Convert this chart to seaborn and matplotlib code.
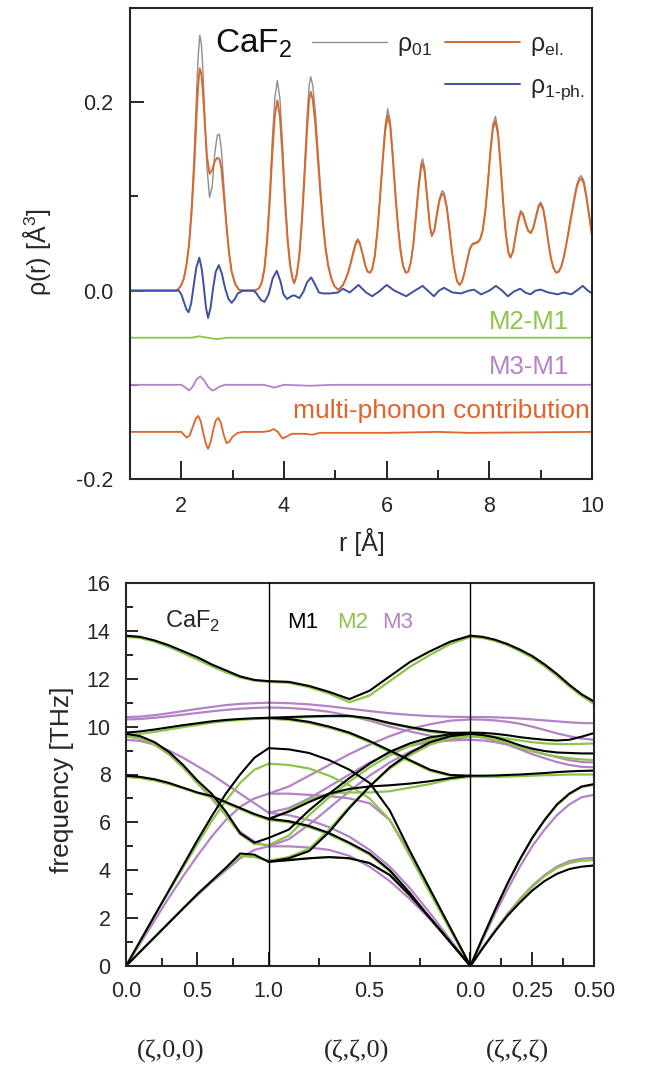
import numpy as np
import pandas as pd
import matplotlib
matplotlib.use("Agg")
import matplotlib.pyplot as plt
from matplotlib.lines import Line2D
from matplotlib.ticker import FixedLocator
import seaborn as sns

# ---------------- top panel data (pair distribution functions) ----------------
R_PDF = [1.0, 1.90, 1.95, 2.00, 2.05, 2.10, 2.15, 2.20, 2.25, 2.30, 2.33, 2.36, 2.39, 2.42, 2.46,
         2.50, 2.55, 2.60, 2.65, 2.70, 2.74, 2.78, 2.83, 2.88, 2.93, 2.98, 3.05, 3.12, 3.20, 3.40,
         3.47, 3.52, 3.57, 3.62, 3.67, 3.72, 3.77, 3.82, 3.87, 3.92, 3.97, 4.02, 4.07, 4.12, 4.17,
         4.20, 4.25, 4.30, 4.35, 4.40, 4.45, 4.49, 4.52, 4.56, 4.61, 4.66, 4.71, 4.76, 4.81, 4.86,
         4.92, 4.98, 5.05,
         5.10, 5.15, 5.20, 5.25, 5.30, 5.35, 5.40, 5.44, 5.48, 5.53, 5.58, 5.63, 5.68, 5.72, 5.77,
         5.82, 5.87, 5.92, 5.97, 6.02, 6.07, 6.12, 6.17, 6.22, 6.27, 6.32, 6.37, 6.42,
         6.47, 6.52, 6.57, 6.62, 6.67, 6.70, 6.74, 6.79, 6.84, 6.88, 6.93, 6.98, 7.03, 7.08, 7.12,
         7.17, 7.22, 7.27, 7.32, 7.37, 7.42,
         7.47, 7.52, 7.57, 7.62, 7.67, 7.72, 7.77, 7.82, 7.87, 7.92, 7.97, 8.02, 8.07, 8.12, 8.17,
         8.22, 8.27, 8.32, 8.37, 8.41,
         8.46, 8.51, 8.56, 8.61, 8.66, 8.71, 8.76, 8.81, 8.86, 8.91, 8.96, 9.00, 9.05, 9.10, 9.15,
         9.20, 9.25, 9.30, 9.35, 9.40, 9.45, 9.50, 9.55, 9.60, 9.65, 9.70, 9.75, 9.79, 9.84, 9.89,
         9.94, 10.0]
RHO_01 = [0, 0, .002, .006, .013, .028, .05, .09, .145, .215, .25, .271, .262, .235, .18,
          .13, .099, .11, .145, .165, .166, .15, .11, .07, .04, .02, .007, .001, 0, 0,
          .001, .003, .01, .025, .056, .102, .158, .204, .223, .204, .158, .102, .058, .028, .012,
          .008, .018, .04, .08, .13, .185, .218, .227, .218, .19, .15, .11, .075, .047, .028,
          .014, .005, .001,
          .003, .006, .012, .02, .03, .042, .052, .055, .051, .04, .028, .02, .019, .024, .038,
          .065, .10, .14, .175, .193, .18, .145, .105, .07, .043, .027, .019, .02,
          .03, .05, .08, .112, .135, .14, .13, .10, .07, .058, .065, .083, .098, .106, .104,
          .09, .068, .043, .023, .01, .006,
          .01, .02, .033, .045, .05, .051, .052, .055, .065, .085, .115, .15, .177, .185, .17,
          .135, .095, .062, .042, .035,
          .042, .058, .075, .085, .082, .072, .064, .062, .068, .08, .091, .094, .088, .072, .052,
          .035, .024, .019, .02, .026, .036, .05, .066, .082, .098, .112, .12, .122, .117, .102,
          .083, .06]
RHO_EL = [0, 0, .002, .006, .013, .027, .048, .083, .13, .19, .22, .236, .23, .212, .175,
          .142, .124, .128, .137, .141, .14, .13, .10, .068, .04, .02, .007, .001, 0, 0,
          .001, .003, .009, .023, .051, .092, .143, .185, .202, .185, .143, .093, .053, .026, .012,
          .008, .017, .037, .074, .121, .172, .203, .211, .203, .177, .14, .102, .07, .044, .026,
          .013, .005, .001,
          .003, .006, .012, .019, .029, .04, .05, .053, .049, .039, .027, .02, .019, .023, .037,
          .063, .097, .135, .169, .186, .174, .14, .101, .068, .042, .026, .019, .02,
          .03, .049, .078, .108, .13, .135, .126, .097, .069, .058, .064, .081, .096, .103, .101,
          .088, .066, .042, .023, .01, .006,
          .01, .02, .032, .044, .049, .05, .051, .054, .063, .083, .112, .146, .172, .180, .165,
          .131, .092, .06, .041, .035,
          .041, .057, .073, .083, .08, .07, .063, .061, .067, .078, .089, .092, .086, .07, .051,
          .034, .024, .019, .02, .025, .035, .049, .064, .08, .095, .109, .117, .119, .114, .099,
          .081, .058]
R_1PH = [1.0, 1.95, 2.0, 2.05, 2.10, 2.14, 2.19, 2.24, 2.29, 2.35, 2.40, 2.44, 2.48, 2.52, 2.57,
         2.62, 2.67, 2.73, 2.79, 2.85, 2.92, 2.98, 3.04, 3.10, 3.20, 3.40, 3.45, 3.55, 3.62, 3.70,
         3.78, 3.86, 3.93, 3.99, 4.06, 4.14, 4.20, 4.30, 4.38, 4.45, 4.53, 4.60, 4.68, 4.75, 4.90,
         5.05, 5.15, 5.28, 5.45, 5.60, 5.72, 5.85, 6.00, 6.15, 6.38, 6.55, 6.70, 6.80, 6.92, 7.02,
         7.12, 7.28, 7.45, 7.60, 7.70, 7.84, 8.00, 8.13, 8.25, 8.36, 8.48, 8.60, 8.70, 8.80, 8.90,
         9.00, 9.15, 9.33, 9.45, 9.60, 9.70, 9.82, 9.92, 10.0]
RHO_1PH = [0, 0, -0.004, -0.012, -0.02, -0.023, -0.014, 0.005, 0.024, 0.035, 0.022, 0.003, -0.018, -0.029, -0.018,
           0.003, 0.02, 0.027, 0.018, 0.003, -0.009, -0.013, -0.009, -0.003, 0, 0, -0.002, -0.01, -0.012, -0.004,
           0.013, 0.021, 0.01, -0.004, -0.009, -0.006, -0.005, -0.008, -0.001, 0.009, 0.014, 0.007, -0.002, -0.003, -0.003,
           -0.002, 0.002, -0.002, 0.006, -0.002, -0.006, -0.001, 0.006, 0.0, -0.006, 0.0, 0.005, 0.0, -0.006, 0.0,
           0.003, -0.002, -0.003, 0.0, 0.001, -0.004, 0.0, 0.005, 0.0, -0.006, -0.001, 0.002, -0.002, -0.004, 0.0,
           0.001, -0.002, -0.004, -0.002, -0.004, 0.0, 0.005, 0.0, -0.003]
R_M2M1 = [1.0, 2.2, 2.35, 2.5, 2.7, 2.9, 10.0]
D_M2M1 = [-0.05, -0.05, -0.0485, -0.05, -0.0515, -0.05, -0.05]
R_M3M1 = [1.0, 2.0, 2.08, 2.15, 2.22, 2.3, 2.37, 2.44, 2.52, 2.6, 2.66, 2.74, 2.85, 2.95, 3.6,
          3.72, 3.8, 3.9, 4.0, 4.5, 5.0, 10.0]
D_M3M1 = [-0.1, -0.1, -0.103, -0.106, -0.102, -0.094, -0.091, -0.095, -0.102, -0.106, -0.105, -0.102,
          -0.1, -0.1, -0.1, -0.1015, -0.103, -0.1015, -0.1, -0.101, -0.1, -0.1]
R_MULTI = [1.0, 2.0, 2.05, 2.1, 2.16, 2.22, 2.28, 2.33, 2.38, 2.43, 2.48, 2.52, 2.57, 2.62, 2.67,
           2.72, 2.77, 2.82, 2.88, 2.94, 3.0, 3.1, 3.2, 3.6, 3.72, 3.8, 3.88, 3.97, 4.05, 4.15,
           4.4, 4.55, 4.7, 5.0, 6.0, 7.0, 7.6, 10.0]
D_MULTI = [-0.15, -0.15, -0.153, -0.156, -0.154, -0.145, -0.136, -0.133, -0.139, -0.152, -0.163, -0.168,
           -0.161, -0.148, -0.138, -0.135, -0.14, -0.152, -0.162, -0.16, -0.155, -0.151, -0.15, -0.15,
           -0.149, -0.147, -0.15, -0.157, -0.155, -0.152, -0.152, -0.153, -0.151, -0.151, -0.151,
           -0.15, -0.151, -0.15]

# ---------------- bottom panel data (phonon dispersion, THz) ----------------
ZETA_GX = [0.0, 0.1, 0.2, 0.3, 0.4, 0.5, 0.6, 0.7, 0.8, 0.9, 1.0]
ZETA_XG = [1.0, 0.9, 0.8, 0.7, 0.6, 0.5, 0.4, 0.3, 0.2, 0.1, 0.0]
ZETA_GL = [0.0, 0.05, 0.1, 0.15, 0.2, 0.25, 0.3, 0.35, 0.4, 0.45, 0.5]

M1_GX = [
    [13.8, 13.75, 13.6, 13.4, 13.15, 12.9, 12.6, 12.35, 12.1, 11.95, 11.9],
    [9.75, 9.8, 9.88, 9.97, 10.06, 10.14, 10.22, 10.28, 10.32, 10.35, 10.37],
    [0, 1.05, 2.1, 3.15, 4.2, 5.25, 6.25, 7.2, 8.0, 8.7, 9.1],
    [7.95, 7.9, 7.8, 7.65, 7.45, 7.25, 7.1, 6.85, 6.6, 6.35, 6.15],
    [9.7, 9.6, 9.35, 8.95, 8.4, 7.75, 7.2, 6.45, 5.55, 5.15, 5.35],
    [0, 0.6, 1.2, 1.8, 2.4, 3.0, 3.55, 4.1, 4.7, 4.65, 4.35],
]
M2_GX = [
    [13.75, 13.7, 13.55, 13.33, 13.07, 12.8, 12.52, 12.27, 12.05, 11.92, 11.87],
    [9.65, 9.7, 9.78, 9.88, 9.98, 10.07, 10.16, 10.23, 10.28, 10.32, 10.33],
    [0, 1.05, 2.1, 3.1, 4.1, 5.1, 6.05, 6.9, 7.65, 8.2, 8.45],
    [7.9, 7.85, 7.75, 7.6, 7.42, 7.22, 7.05, 6.8, 6.55, 6.3, 6.1],
    [9.6, 9.5, 9.25, 8.85, 8.3, 7.65, 7.05, 6.3, 5.5, 5.1, 5.05],
    [0, 0.6, 1.2, 1.8, 2.4, 3.0, 3.55, 4.1, 4.6, 4.55, 4.4],
]
M3_GX = [
    [10.4, 10.42, 10.48, 10.56, 10.65, 10.74, 10.82, 10.9, 10.95, 10.98, 11.0],
    [10.3, 10.32, 10.37, 10.43, 10.5, 10.57, 10.64, 10.7, 10.75, 10.78, 10.8],
    [9.45, 9.4, 9.25, 9.0, 8.7, 8.35, 8.0, 7.6, 7.2, 6.8, 6.4],
    [9.6, 9.5, 9.25, 8.85, 8.3, 7.65, 7.0, 6.3, 5.6, 5.2, 5.0],
    [0, 0.95, 1.9, 2.85, 3.75, 4.6, 5.4, 6.1, 6.65, 7.0, 7.2],
    [0, 0.6, 1.2, 1.8, 2.4, 2.95, 3.5, 4.0, 4.5, 4.85, 5.0],
]
M1_XG = [
    [11.9, 11.87, 11.7, 11.45, 11.15, 11.5, 12.1, 12.7, 13.15, 13.55, 13.8],
    [10.37, 10.4, 10.43, 10.45, 10.45, 10.35, 10.15, 9.98, 9.83, 9.74, 9.75],
    [10.37, 10.32, 10.2, 10.0, 9.75, 9.4, 9.0, 8.6, 8.2, 7.98, 7.95],
    [9.1, 9.05, 8.9, 8.6, 8.2, 7.65, 6.5, 4.8, 3.2, 1.6, 0],
    [5.35, 5.7, 6.5, 7.2, 7.85, 8.45, 8.95, 9.3, 9.55, 9.68, 9.7],
    [4.35, 4.5, 4.8, 5.6, 6.6, 7.5, 8.3, 8.9, 9.35, 9.6, 9.7],
    [6.15, 6.45, 6.85, 7.2, 7.4, 7.5, 7.55, 7.62, 7.72, 7.85, 7.95],
    [6.15, 6.05, 5.85, 5.55, 5.15, 4.7, 4.0, 3.05, 2.0, 1.0, 0],
    [4.35, 4.42, 4.5, 4.55, 4.5, 4.3, 3.8, 2.95, 2.0, 1.0, 0],
]
M2_XG = [
    [11.87, 11.83, 11.65, 11.38, 11.02, 11.3, 11.9, 12.5, 13.0, 13.45, 13.75],
    [10.33, 10.36, 10.4, 10.42, 10.42, 10.32, 10.12, 9.95, 9.78, 9.67, 9.65],
    [10.33, 10.28, 10.15, 9.95, 9.7, 9.35, 8.95, 8.55, 8.15, 7.95, 7.9],
    [8.45, 8.4, 8.25, 7.95, 7.55, 7.0, 6.1, 4.6, 3.05, 1.5, 0],
    [5.05, 5.45, 6.3, 7.05, 7.7, 8.3, 8.8, 9.2, 9.45, 9.58, 9.6],
    [4.4, 4.55, 4.9, 5.7, 6.65, 7.5, 8.25, 8.8, 9.25, 9.5, 9.6],
    [6.1, 6.5, 6.95, 7.2, 7.25, 7.25, 7.3, 7.45, 7.6, 7.8, 7.9],
    [6.1, 6.0, 5.8, 5.5, 5.1, 4.65, 3.95, 3.0, 2.0, 1.0, 0],
    [4.4, 4.45, 4.5, 4.55, 4.5, 4.3, 3.8, 2.95, 2.0, 1.0, 0],
]
M3_XG = [
    [11.0, 10.98, 10.93, 10.85, 10.75, 10.65, 10.56, 10.49, 10.44, 10.41, 10.4],
    [10.8, 10.78, 10.72, 10.62, 10.45, 10.25, 10.0, 9.8, 9.62, 9.5, 9.45],
    [7.2, 7.2, 7.15, 7.1, 7.0, 6.8, 6.1, 4.7, 3.15, 1.55, 0],
    [6.4, 6.6, 7.0, 7.5, 8.0, 8.5, 8.9, 9.2, 9.35, 9.42, 9.45],
    [7.2, 7.5, 7.95, 8.4, 8.85, 9.25, 9.6, 9.9, 10.1, 10.25, 10.3],
    [5.0, 5.3, 5.9, 6.6, 7.3, 7.95, 8.5, 8.95, 9.3, 9.5, 9.6],
    [6.4, 6.3, 6.1, 5.8, 5.4, 4.85, 4.15, 3.25, 2.2, 1.1, 0],
    [5.0, 5.0, 4.95, 4.85, 4.6, 4.15, 3.55, 2.8, 1.95, 1.0, 0],
]
M1_GL = [
    [13.8, 13.75, 13.63, 13.45, 13.22, 12.95, 12.6, 12.2, 11.75, 11.35, 11.05],
    [9.75, 9.74, 9.7, 9.64, 9.56, 9.5, 9.45, 9.42, 9.45, 9.58, 9.73],
    [9.7, 9.65, 9.55, 9.4, 9.22, 9.08, 8.98, 8.92, 8.9, 8.88, 8.88],
    [7.95, 7.95, 7.96, 7.98, 8.0, 8.03, 8.06, 8.1, 8.13, 8.15, 8.16],
    [0, 1.2, 2.35, 3.45, 4.45, 5.35, 6.1, 6.75, 7.2, 7.5, 7.6],
    [0, 0.75, 1.45, 2.1, 2.65, 3.15, 3.55, 3.85, 4.05, 4.15, 4.2],
]
M2_GL = [
    [13.75, 13.7, 13.58, 13.4, 13.15, 12.88, 12.52, 12.12, 11.68, 11.28, 10.95],
    [9.65, 9.63, 9.58, 9.5, 9.42, 9.35, 9.3, 9.27, 9.27, 9.28, 9.3],
    [9.6, 9.55, 9.45, 9.3, 9.12, 8.97, 8.85, 8.75, 8.68, 8.63, 8.6],
    [7.9, 7.9, 7.9, 7.91, 7.93, 7.95, 7.97, 7.98, 8.0, 8.0, 8.0],
    [0, 1.2, 2.35, 3.45, 4.45, 5.33, 6.08, 6.72, 7.17, 7.47, 7.57],
    [0, 0.76, 1.48, 2.15, 2.75, 3.3, 3.75, 4.1, 4.3, 4.4, 4.42],
]
M3_GL = [
    [10.4, 10.4, 10.39, 10.37, 10.34, 10.3, 10.26, 10.22, 10.18, 10.15, 10.14],
    [10.3, 10.29, 10.26, 10.2, 10.12, 10.0, 9.86, 9.72, 9.6, 9.5, 9.45],
    [9.45, 9.42, 9.35, 9.25, 9.12, 8.98, 8.85, 8.72, 8.6, 8.52, 8.5],
    [9.6, 9.55, 9.42, 9.25, 9.05, 8.85, 8.68, 8.52, 8.4, 8.32, 8.3],
    [0, 1.1, 2.2, 3.2, 4.15, 5.0, 5.7, 6.3, 6.75, 7.05, 7.15],
    [0, 0.77, 1.5, 2.18, 2.8, 3.35, 3.8, 4.15, 4.38, 4.48, 4.52],
]
XTICK_ZETA = [(0, 0.0), (0, 0.5), (0, 1.0), (1, 0.5), (1, 0.0), (2, 0.25), (2, 0.5)]
XTICK_LABELS = ["0.0", "0.5", "1.0", "0.5", "0.0", "0.25", "0.50"]
XMINOR_ZETA = [(0, 0.25), (0, 0.75), (1, 0.75), (1, 0.25), (2, 0.125), (2, 0.375)]
PATH_LABELS = ["(ζ,0,0)", "(ζ,ζ,0)", "(ζ,ζ,ζ)"]

# ---------------- styling ----------------
sns.set_style("ticks")
plt.rcParams["font.family"] = ["Liberation Sans", "DejaVu Sans"]
plt.rcParams["mathtext.fontset"] = "custom"
plt.rcParams["mathtext.rm"] = "Liberation Sans"
plt.rcParams["axes.linewidth"] = 1.5

C_GRAY = "#8e8e8e"
C_ORANGE = "#d8692c"
C_BLUE = "#3f4fa0"
C_GREEN = "#8dc449"
C_PURPLE = "#b483c6"
C_MULTI = "#e0642c"
TICK_FS = 15.5

fig = plt.figure(figsize=(6.46, 10.72), dpi=100)
ax1 = fig.add_axes([130 / 646, 1 - 479 / 1072, 462 / 646, 471 / 1072])
ax2 = fig.add_axes([126 / 646, 1 - 966 / 1072, 468 / 646, 383 / 1072])

# ---------------- top panel ----------------
def series_df(r, v, name):
    return pd.DataFrame({"r": r, "v": v, "series": name})

top_series = [
    (series_df(R_PDF, RHO_01, "rho01"), C_GRAY, 1.0),
    (series_df(R_PDF, RHO_EL, "rhoel"), C_ORANGE, 1.4),
    (series_df(R_1PH, RHO_1PH, "rho1ph"), C_BLUE, 1.4),
    (series_df(R_M2M1, D_M2M1, "M2-M1"), C_GREEN, 1.3),
    (series_df(R_M3M1, D_M3M1, "M3-M1"), C_PURPLE, 1.3),
    (series_df(R_MULTI, D_MULTI, "multi"), C_MULTI, 1.3),
]
for d, c, lw in top_series:
    sns.lineplot(data=d, x="r", y="v", ax=ax1, color=c, linewidth=lw,
                 estimator=None, sort=False, legend=False)

ax1.set_xlim(1, 10)
ax1.set_ylim(-0.2, 0.3)
ax1.set_xticks([2, 4, 6, 8, 10])
ax1.set_xticklabels(["2", "4", "6", "8", "10"])
ax1.xaxis.set_minor_locator(FixedLocator([3, 5, 7, 9]))
ax1.set_yticks([-0.2, 0.0, 0.2])
ax1.set_yticklabels(["-0.2", "0.0", "0.2"])
ax1.yaxis.set_minor_locator(FixedLocator([-0.1, 0.1]))
ax1.tick_params(axis="x", which="major", direction="in", length=13, width=1.4, labelsize=TICK_FS, pad=12)
ax1.tick_params(axis="x", which="minor", direction="in", length=6.5, width=1.4)
ax1.tick_params(axis="y", which="major", direction="in", length=10, width=1.4, labelsize=TICK_FS, pad=12)
ax1.tick_params(axis="y", which="minor", direction="in", length=6, width=1.4)
ax1.set_xlabel("")
ax1.set_ylabel("")
for s in ax1.spines.values():
    s.set_visible(True)
    s.set_linewidth(1.5)

ax1.text(0.184, 0.907, "CaF$_\\mathregular{2}$", transform=ax1.transAxes, fontsize=24,
         ha="left", va="baseline", color="#111111")
ax1.text(9.55, -0.0404, "M2-M1", color=C_GREEN, fontsize=18.5, ha="right", va="baseline")
ax1.text(9.55, -0.0883, "M3-M1", color=C_PURPLE, fontsize=18.5, ha="right", va="baseline")
ax1.text(9.95, -0.135, "multi-phonon contribution", color=C_MULTI, fontsize=19,
         ha="right", va="baseline")

handles = [Line2D([], [], color=C_GRAY, lw=1.0),
           Line2D([], [], color="none", lw=0),
           Line2D([], [], color=C_ORANGE, lw=1.4),
           Line2D([], [], color=C_BLUE, lw=1.4)]
labels = ["ρ$_\\mathregular{01}$", "", "ρ$_\\mathregular{el.}$", "ρ$_\\mathregular{1‐ph.}$"]
ax1.legend(handles, labels, ncol=2, loc="upper right", bbox_to_anchor=(1.0, 0.966),
           frameon=False, fontsize=18, handlelength=3.0, handletextpad=0.4,
           columnspacing=0.5, labelspacing=0.65, borderaxespad=0.1, borderpad=0.2)

fig.text(362 / 646, 1 - 542 / 1072, "r [Å]", fontsize=18, ha="center", va="center")
fig.text(37 / 646, 1 - 252 / 1072, "ρ(r) [Å$^\\mathregular{3}$]", fontsize=18, ha="center",
         va="center", rotation=90)

# ---------------- bottom panel ----------------
SEG_LEN = [1.0, np.sqrt(2.0), np.sqrt(3.0) / 2.0]
SEG_START = [0.0, SEG_LEN[0], SEG_LEN[0] + SEG_LEN[1]]


def path_x(seg, z):
    if seg == 0:
        return z
    if seg == 1:
        return SEG_START[1] + np.sqrt(2.0) * (1.0 - z)
    return SEG_START[2] + np.sqrt(3.0) * z


rows = []
models = {"M1": [M1_GX, M1_XG, M1_GL], "M2": [M2_GX, M2_XG, M2_GL], "M3": [M3_GX, M3_XG, M3_GL]}
zetas = [ZETA_GX, ZETA_XG, ZETA_GL]
for m, segs in models.items():
    for s, branches in enumerate(segs):
        for b, freqs in enumerate(branches):
            for z, f in zip(zetas[s], freqs):
                rows.append({"model": m, "line": f"{m}-{s}-{b}", "x": path_x(s, z), "f": f})
disp = pd.DataFrame(rows)

for m, c, lw in [("M3", C_PURPLE, 1.6), ("M2", C_GREEN, 1.6), ("M1", "black", 1.5)]:
    sns.lineplot(data=disp[disp.model == m], x="x", y="f", units="line", estimator=None,
                 sort=False, color=c, linewidth=lw, ax=ax2, legend=False)

for xb in SEG_START[1:]:
    ax2.axvline(xb, color="black", lw=1.0, zorder=5)

total = sum(SEG_LEN)
ax2.set_xlim(0, total)
ax2.set_ylim(0, 16)
ax2.set_xticks([path_x(s, z) for s, z in XTICK_ZETA])
ax2.set_xticklabels(XTICK_LABELS)
ax2.xaxis.set_minor_locator(FixedLocator([path_x(s, z) for s, z in XMINOR_ZETA]))
ax2.set_yticks(list(range(0, 17, 2)))
ax2.yaxis.set_minor_locator(FixedLocator(list(range(1, 16, 2))))
ax2.tick_params(axis="x", which="major", direction="in", length=10, width=1.4, labelsize=TICK_FS, pad=11)
ax2.tick_params(axis="x", which="minor", direction="in", length=6, width=1.4)
ax2.tick_params(axis="y", which="major", direction="in", length=8.5, width=1.4, labelsize=TICK_FS, pad=11)
ax2.tick_params(axis="y", which="minor", direction="in", length=5, width=1.4)
ax2.set_xlabel("")
ax2.set_ylabel("")
for s in ax2.spines.values():
    s.set_visible(True)
    s.set_linewidth(1.5)

ax2.text(0.273, 14.12, "CaF$_\\mathregular{2}$", fontsize=17, ha="left", va="baseline")
ax2.text(1.128, 14.1, "M1", fontsize=16, ha="left", va="baseline", color="black")
ax2.text(1.479, 14.1, "M2", fontsize=16, ha="left", va="baseline", color=C_GREEN)
ax2.text(1.794, 14.1, "M3", fontsize=16, ha="left", va="baseline", color=C_PURPLE)

fig.text(62 / 646, 1 - 780 / 1072, "frequency [THz]", fontsize=19, ha="center", va="center",
         rotation=90)
for lab, xp in zip(PATH_LABELS, [171, 357, 517]):
    fig.text(xp / 646, 1 - 1051 / 1072, lab, fontsize=19, ha="center", va="center",
             family=["Liberation Serif", "DejaVu Serif"])

fig.savefig("out.png", dpi=100)
